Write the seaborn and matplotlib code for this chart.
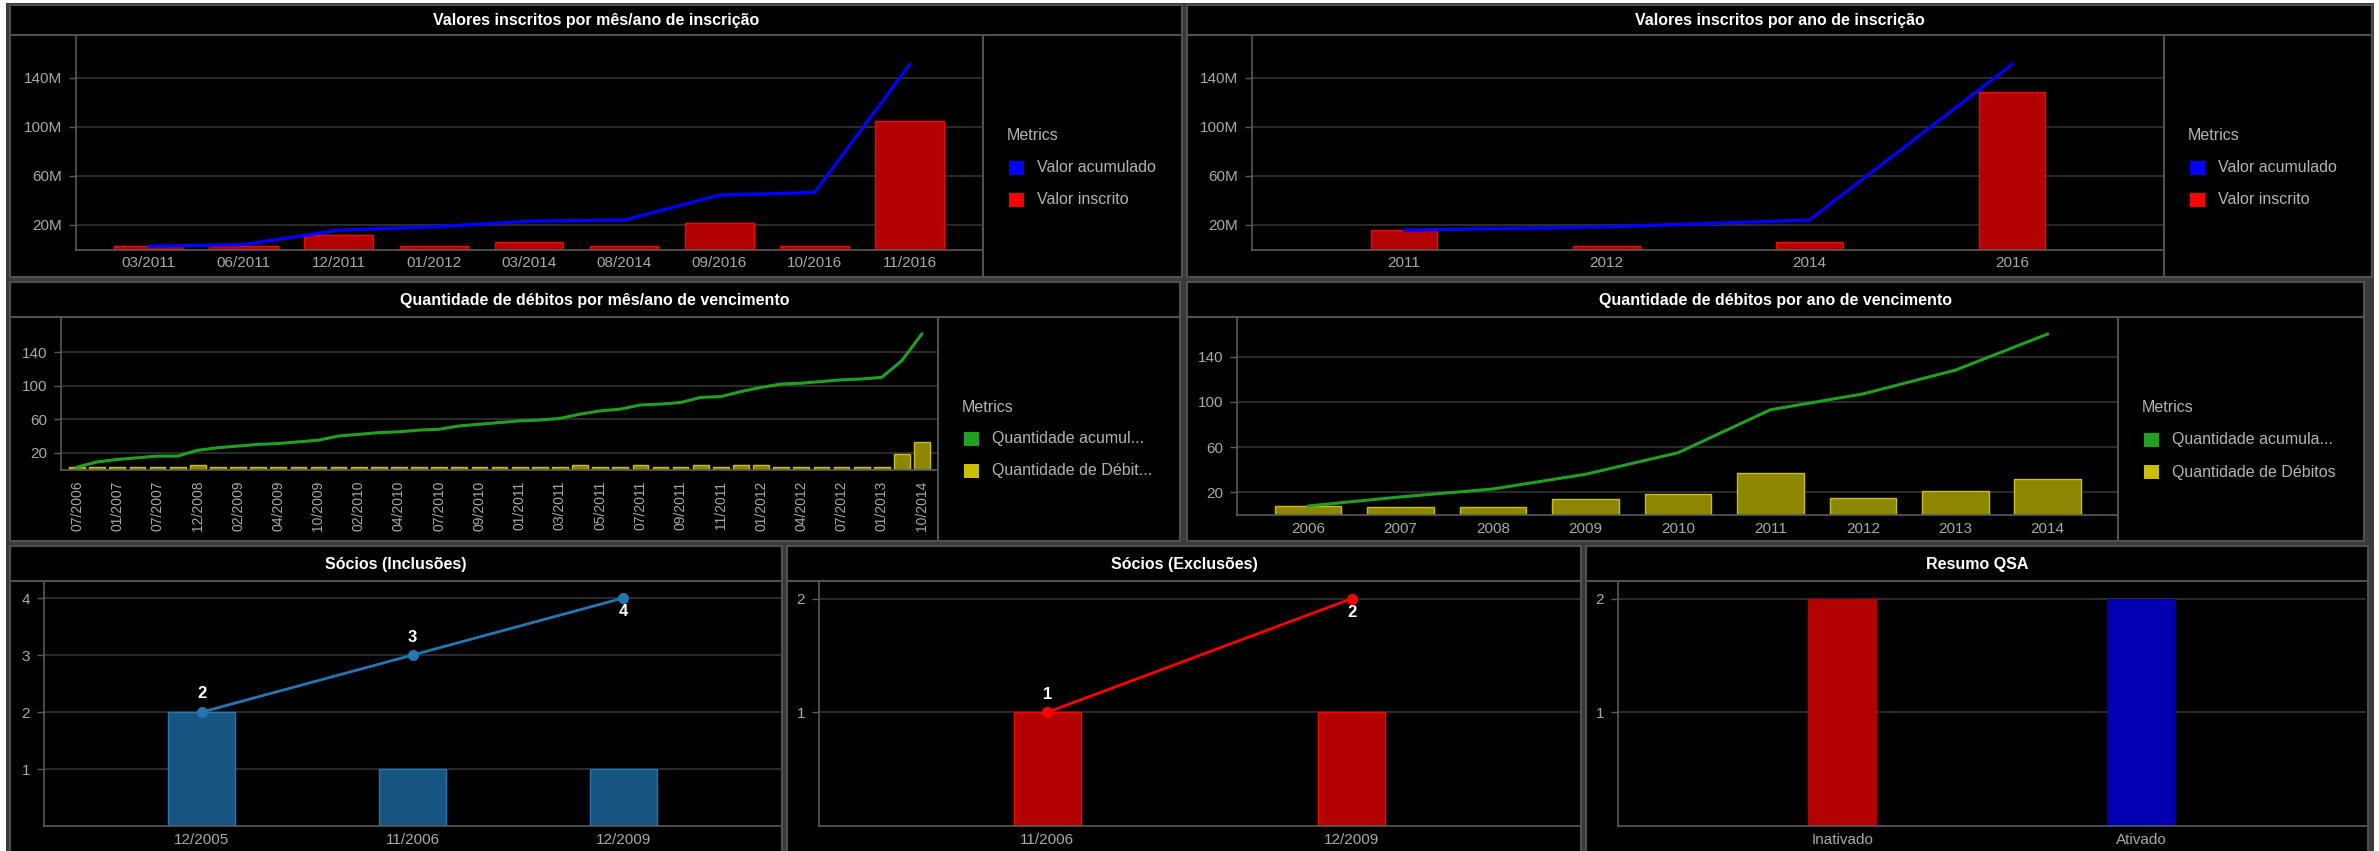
import numpy as np
import pandas as pd
import matplotlib
matplotlib.use("Agg")
import matplotlib.pyplot as plt
import seaborn as sns
from matplotlib.patches import Rectangle
from matplotlib.lines import Line2D
from matplotlib.ticker import FuncFormatter

# ---------------------------------------------------------------------------
# data
# ---------------------------------------------------------------------------
mes_inscricao = ["03/2011", "06/2011", "12/2011", "01/2012", "03/2014",
                 "08/2014", "09/2016", "10/2016", "11/2016"]
valor_inscrito_mes = [2.5e6, 2.5e6, 12.2e6, 2.5e6, 6.3e6, 2.5e6, 21.8e6, 2.5e6, 105e6]
valor_acumulado_mes = [2.7e6, 4.0e6, 15.8e6, 18.5e6, 23.1e6, 24.0e6, 44.4e6, 46.5e6, 151e6]

ano_inscricao = ["2011", "2012", "2014", "2016"]
valor_inscrito_ano = [15.8e6, 2.5e6, 6.3e6, 128.7e6]
valor_acumulado_ano = [15.8e6, 18.5e6, 24.0e6, 151e6]

mes_vencimento = ["07/2006", "10/2006", "01/2007", "04/2007", "07/2007", "01/2008",
                  "12/2008", "01/2009", "02/2009", "03/2009", "04/2009", "07/2009",
                  "10/2009", "01/2010", "02/2010", "03/2010", "04/2010", "05/2010",
                  "07/2010", "08/2010", "09/2010", "10/2010", "01/2011", "02/2011",
                  "03/2011", "04/2011", "05/2011", "06/2011", "07/2011", "08/2011",
                  "09/2011", "10/2011", "11/2011", "12/2011", "01/2012", "02/2012",
                  "04/2012", "05/2012", "07/2012", "10/2012", "01/2013", "03/2013",
                  "10/2014"]
qtd_debitos_mes = [3, 3, 3, 3, 3, 3, 5, 3, 3, 3, 3, 3, 3, 3, 3, 3, 3, 3, 3, 3, 3, 3,
                   3, 3, 3, 5, 3, 3, 5, 3, 3, 5, 3, 5, 5, 3, 3, 3, 3, 3, 3, 19, 33]
qtd_acumulada_mes = [3, 9, 12, 14, 16, 16, 23, 26, 28, 30, 31, 33, 35, 40, 42, 44, 45,
                     47, 48, 52, 54, 56, 58, 59, 61, 66, 70, 72, 77, 78, 80, 86, 87,
                     93, 98, 102, 103, 105, 107, 108, 110, 130, 162]

ano_vencimento = ["2006", "2007", "2008", "2009", "2010", "2011", "2012", "2013", "2014"]
qtd_debitos_ano = [8, 7, 7, 14, 19, 37, 15, 21, 32]
qtd_acumulada_ano = [8, 16, 23, 36, 55, 93, 107, 128, 160]

socios_incl_data = ["12/2005", "11/2006", "12/2009"]
socios_incl_qtd = [2, 1, 1]
socios_incl_acum = [2, 3, 4]

socios_excl_data = ["11/2006", "12/2009"]
socios_excl_qtd = [1, 1]
socios_excl_acum = [1, 2]

qsa_status = ["Inativado", "Ativado"]
qsa_qtd = [2, 2]

# ---------------------------------------------------------------------------
# style
# ---------------------------------------------------------------------------
W, H = 2379, 851
FRAME = "#3a3a3a"
EDGE = "#505050"
GRID = "#333333"
SPINE = "#5a5a5a"
TICK = "#a8a8a8"
LEG = "#b4b4b4"

RED, RED_FILL = "#ff0000", "#b30000"
BLUE, BLUE_FILL = "#0000ff", "#0000b3"
GREEN = "#20a020"
YELLOW, YELLOW_FILL = "#c8c000", "#8c8600"
TAB, TAB_FILL = "#1f77b4", "#175580"

sns.set_theme(style="dark")
plt.rcParams["font.family"] = ["Liberation Sans", "DejaVu Sans"]

fig = plt.figure(figsize=(W / 100, H / 100), dpi=100, facecolor="white")


def fx(x):
    return x / W


def fy(y):
    return 1 - y / H


def make_panel(x0, y0, x1, y1, title, tb, divider=None):
    fig.add_artist(Rectangle((fx(x0), fy(y1)), (x1 - x0) / W, (y1 - y0) / H,
                             transform=fig.transFigure, facecolor="black",
                             edgecolor=EDGE, linewidth=1.5, zorder=-5))
    fig.add_artist(Line2D([fx(x0), fx(x1)], [fy(tb), fy(tb)], color=EDGE, lw=1.5, zorder=5))
    fig.text(fx((x0 + x1) / 2), fy((y0 + tb) / 2 + 1), title, color="white",
             fontsize=11.5, fontweight="bold", ha="center", va="center")
    if divider is not None:
        fig.add_artist(Line2D([fx(divider)] * 2, [fy(tb), fy(y1)], color=EDGE, lw=1.5, zorder=5))


def make_axes(x0, y0, x1, y1):
    ax = fig.add_axes([fx(x0), fy(y1), (x1 - x0) / W, (y1 - y0) / H])
    ax.set_facecolor("none")
    for s in ["top", "right"]:
        ax.spines[s].set_visible(False)
    for s in ["left", "bottom"]:
        ax.spines[s].set_color(SPINE)
        ax.spines[s].set_linewidth(1.2)
    ax.set_axisbelow(True)
    ax.yaxis.grid(True, color=GRID, linewidth=1.2)
    ax.xaxis.grid(False)
    ax.tick_params(axis="y", left=True, length=5, width=1, color=SPINE,
                   labelcolor=TICK, labelsize=11, pad=5)
    ax.tick_params(axis="x", bottom=False, length=0, labelcolor=TICK, labelsize=11, pad=5)
    return ax


def legend(div, ytitle, items):
    fig.text(fx(div + 24), fy(ytitle), "Metrics", color=LEG, fontsize=11.5,
             ha="left", va="center")
    for k, (lab, col) in enumerate(items):
        yc = ytitle + 32 + 32 * k
        fig.add_artist(Rectangle((fx(div + 26), fy(yc + 7)), 15 / W, 14 / H,
                                 transform=fig.transFigure, facecolor=col,
                                 edgecolor="none", zorder=5))
        fig.text(fx(div + 54), fy(yc), lab, color=LEG, fontsize=11.5,
                 ha="left", va="center")


# gray dashboard frame behind the panels
fig.add_artist(Rectangle((fx(6), 0), (2374 - 6) / W, fy(3), transform=fig.transFigure,
                         facecolor=FRAME, edgecolor="none", zorder=-10))

millions = FuncFormatter(lambda v, p: f"{int(round(v / 1e6))}M")

# ---------------- row 1 left -----------------------------------------------
make_panel(10, 5, 1182, 277, "Valores inscritos por mês/ano de inscrição", 35, divider=983)
ax = make_axes(76, 35, 983, 249.5)
sns.barplot(x=mes_inscricao, y=valor_inscrito_mes, ax=ax, color=RED_FILL, edgecolor=RED,
            linewidth=1, saturation=1, width=0.72)
sns.lineplot(x=np.arange(len(mes_inscricao)), y=valor_acumulado_mes, ax=ax, color=BLUE,
             linewidth=2.4)
ax.set_xlim(-0.76, len(mes_inscricao) - 0.23)
ax.set_ylim(0, 175e6)
ax.set_yticks([20e6, 60e6, 100e6, 140e6])
ax.yaxis.set_major_formatter(millions)
ax.set_xlabel("")
ax.set_ylabel("")
legend(983, 136, [("Valor acumulado", BLUE), ("Valor inscrito", RED)])

# ---------------- row 1 right ----------------------------------------------
make_panel(1187, 5, 2372, 277, "Valores inscritos por ano de inscrição", 35, divider=2164)
ax = make_axes(1252, 35, 2164, 249.5)
sns.barplot(x=ano_inscricao, y=valor_inscrito_ano, ax=ax, color=RED_FILL, edgecolor=RED,
            linewidth=1, saturation=1, width=0.33)
sns.lineplot(x=np.arange(len(ano_inscricao)), y=valor_acumulado_ano, ax=ax, color=BLUE,
             linewidth=2.4)
ax.set_xlim(-0.75, len(ano_inscricao) - 0.25)
ax.set_ylim(0, 175e6)
ax.set_yticks([20e6, 60e6, 100e6, 140e6])
ax.yaxis.set_major_formatter(millions)
ax.set_xlabel("")
ax.set_ylabel("")
legend(2164, 136, [("Valor acumulado", BLUE), ("Valor inscrito", RED)])

# ---------------- row 2 left -----------------------------------------------
make_panel(10, 282, 1180, 541, "Quantidade de débitos por mês/ano de vencimento", 317,
           divider=937.5)
ax = make_axes(61, 317, 937.5, 469.5)
sns.barplot(x=mes_vencimento, y=qtd_debitos_mes, ax=ax, color=YELLOW_FILL, edgecolor=YELLOW,
            linewidth=1, saturation=1, width=0.78)
sns.lineplot(x=np.arange(len(mes_vencimento)), y=qtd_acumulada_mes, ax=ax, color=GREEN,
             linewidth=2.2)
ax.set_xlim(-0.8, len(mes_vencimento) - 0.23)
ax.set_ylim(0, 182)
ax.set_yticks([20, 60, 100, 140])
pos = list(range(0, len(mes_vencimento), 2))
ax.set_xticks(pos, labels=[mes_vencimento[i] for i in pos], rotation=90)
ax.tick_params(axis="x", labelsize=10, pad=8)
ax.set_xlabel("")
ax.set_ylabel("")
legend(937.5, 407, [("Quantidade acumul...", GREEN), ("Quantidade de Débit...", YELLOW)])

# ---------------- row 2 right ----------------------------------------------
make_panel(1187, 282, 2364, 541, "Quantidade de débitos por ano de vencimento", 317,
           divider=2118)
ax = make_axes(1237, 317, 2118, 515)
sns.barplot(x=ano_vencimento, y=qtd_debitos_ano, ax=ax, color=YELLOW_FILL, edgecolor=YELLOW,
            linewidth=1, saturation=1, width=0.72)
sns.lineplot(x=np.arange(len(ano_vencimento)), y=qtd_acumulada_ano, ax=ax, color=GREEN,
             linewidth=2.2)
ax.set_xlim(-0.77, len(ano_vencimento) - 0.24)
ax.set_ylim(0, 175)
ax.set_yticks([20, 60, 100, 140])
ax.set_xlabel("")
ax.set_ylabel("")
legend(2118, 408, [("Quantidade acumula...", GREEN), ("Quantidade de Débitos", YELLOW)])


# ---------------- row 3 ----------------------------------------------------
def socios(ax, cats, qtd, acum, fill, edge, ytop):
    sns.barplot(x=cats, y=qtd, ax=ax, color=fill, edgecolor=edge, linewidth=1,
                saturation=1, width=67 / ax.bbox.width * (len(cats) + 0.5))
    xs = np.arange(len(cats))
    sns.lineplot(x=xs, y=acum, ax=ax, color=edge, linewidth=2, marker="o",
                 markersize=8, markeredgewidth=0)
    top = max(acum)
    for x, v in zip(xs, acum):
        dy = -10 if v == top else 13
        ax.annotate(str(v), (x, v), xytext=(0, dy), textcoords="offset points",
                    ha="center", va="center", color="white", fontsize=12,
                    fontweight="bold")
    ax.set_xlim(-0.75, len(cats) - 0.25)
    ax.set_ylim(0, ytop)
    ax.set_yticks(np.arange(1, top + 1))
    ax.set_xlabel("")
    ax.set_ylabel("")


make_panel(10, 546, 782, 900, "Sócios (Inclusões)", 581)
ax = make_axes(44, 581, 781, 826)
socios(ax, socios_incl_data, socios_incl_qtd, socios_incl_acum, TAB_FILL, TAB, 4.3)

make_panel(787, 546, 1581, 900, "Sócios (Exclusões)", 581)
ax = make_axes(819, 581, 1580, 826)
socios(ax, socios_excl_data, socios_excl_qtd, socios_excl_acum, RED_FILL, RED, 2.155)

make_panel(1586, 546, 2368, 900, "Resumo QSA", 581)
ax = make_axes(1618, 581, 2366, 826)
sns.barplot(x=qsa_status, y=qsa_qtd, hue=qsa_status, palette=[RED_FILL, BLUE_FILL],
            legend=False, ax=ax, saturation=1, linewidth=0, width=0.233)
ax.set_xlim(-0.75, len(qsa_status) - 0.25)
ax.set_ylim(0, 2.155)
ax.set_yticks([1, 2])
ax.set_xlabel("")
ax.set_ylabel("")

fig.savefig("out.png", dpi=100, facecolor="white")
